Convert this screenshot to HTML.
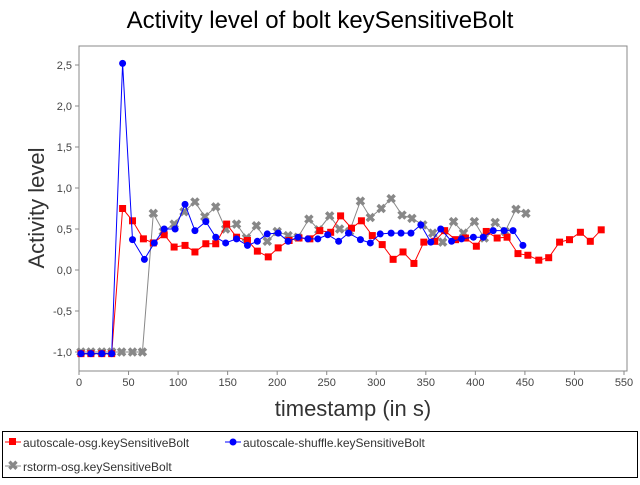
<!DOCTYPE html>
<html><head><meta charset="utf-8"><style>
body{margin:0;background:#fff;font-family:"Liberation Sans",sans-serif}
svg text{font-family:"Liberation Sans",sans-serif}
</style></head><body>
<svg id="chart" width="640" height="480">
<text x="320" y="28" text-anchor="middle" font-size="24" fill="#000">Activity level of bolt keySensitiveBolt</text>
<rect x="79" y="46" width="548" height="325" fill="#fff" stroke="#888"/>
<g id="axes"></g>
<g id="series"></g>
<text transform="translate(44,208) rotate(-90)" text-anchor="middle" font-size="22" fill="#333">Activity level</text>
<text x="353" y="416" text-anchor="middle" font-size="22" fill="#333">timestamp (in s)</text>
<rect x="2.5" y="431.5" width="635" height="46" fill="#fff" stroke="#000"/>
<g>
<line x1="5" y1="442" x2="21" y2="442" stroke="#f00"/><rect x="9" y="438" width="7" height="7" fill="#f00"/>
<text x="23" y="447" font-size="12" fill="#333">autoscale-osg.keySensitiveBolt</text></g>
<g>
<line x1="225" y1="442" x2="241" y2="442" stroke="#00f"/><circle cx="233" cy="442" r="3.5" fill="#00f"/>
<text x="243" y="447" font-size="12" fill="#333">autoscale-shuffle.keySensitiveBolt</text></g>
<g>
<line x1="5" y1="466" x2="21" y2="466" stroke="#888"/><text x="13" y="470" font-size="13" font-weight="bold" fill="#888" text-anchor="middle">✖</text>
<text x="23" y="471" font-size="12" fill="#333">rstorm-osg.keySensitiveBolt</text></g>
</svg>
<script>
const xTicks=[0,50,100,150,200,250,300,350,400,450,500,550];
const yTicks=[-1.0,-0.5,0.0,0.5,1.0,1.5,2.0,2.5];
const redT=[2,12,23,33,44,54,65,75,86,96,107,117,128,138,149,159,170,180,191,201,212,222,233,243,254,264,275,285,296,306,317,327,338,348,359,369,380,390,401,411,422,432,443,453,464,474,485,495,506,516,527];
const redV=[-1.02,-1.02,-1.02,-1.02,0.75,0.6,0.38,0.33,0.43,0.28,0.3,0.22,0.32,0.32,0.56,0.4,0.36,0.23,0.16,0.27,0.36,0.39,0.38,0.48,0.46,0.66,0.51,0.6,0.42,0.31,0.13,0.22,0.08,0.34,0.35,0.48,0.37,0.39,0.29,0.47,0.39,0.4,0.2,0.18,0.12,0.15,0.34,0.37,0.46,0.35,0.49];
const blueT=[2,12,23,33,44,54,66,76,86,97,107,117,128,138,148,159,170,180,190,201,211,221,231,241,251,262,272,284,294,304,315,325,335,345,355,365,376,386,398,408,418,429,438,448];
const blueV=[-1.02,-1.02,-1.02,-1.02,2.52,0.37,0.13,0.33,0.5,0.5,0.8,0.48,0.59,0.4,0.33,0.38,0.3,0.35,0.44,0.45,0.35,0.4,0.38,0.38,0.43,0.35,0.45,0.37,0.33,0.44,0.45,0.45,0.45,0.55,0.34,0.5,0.35,0.38,0.4,0.4,0.48,0.48,0.48,0.3];
const grayT=[2,12,23,33,43,54,64,75,85,96,106,117,127,138,148,159,169,179,190,200,211,221,232,242,253,263,273,284,294,305,315,326,336,347,357,367,378,388,399,409,420,430,441,451];
const grayV=[-1.0,-1.0,-1.0,-1.0,-1.0,-1.0,-1.0,0.69,0.47,0.56,0.71,0.83,0.65,0.77,0.5,0.56,0.39,0.54,0.35,0.47,0.42,0.4,0.62,0.49,0.66,0.5,0.47,0.84,0.64,0.75,0.87,0.67,0.63,0.55,0.45,0.34,0.59,0.45,0.59,0.39,0.58,0.47,0.74,0.69];
const X0=79,XS=(624-79)/550,Y0=270,YS=82;
const sx=t=>X0+t*XS, sy=v=>Y0-v*YS;
const NS="http://www.w3.org/2000/svg";
function mk(tag,attrs,parent){const e=document.createElementNS(NS,tag);for(const k in attrs)e.setAttribute(k,attrs[k]);parent.appendChild(e);return e;}
const axes=document.getElementById('axes');
xTicks.forEach(t=>{
 const l=mk('line',{x1:sx(t),x2:sx(t),y1:371,y2:375,stroke:'#888'},axes);
 
 
 const tx=mk('text',{x:sx(t),y:386,'text-anchor':'middle','font-size':11,fill:'#444'},axes);
 tx.textContent=t;
 
 
});
yTicks.forEach(v=>{
 const l=mk('line',{x1:75,x2:79,y1:sy(v),y2:sy(v),stroke:'#888'},axes);
 
 
 const tx=mk('text',{x:72,y:sy(v)+4,'text-anchor':'end','font-size':11,fill:'#444'},axes);
 tx.textContent=v.toFixed(1).replace('.',',');
 
 
});
const sg=document.getElementById('series');
function draw(T,V,color,shape,name){
 const g=mk('g',{},sg);
 
 
 mk('polyline',{points:T.map((t,i)=>sx(t)+','+sy(V[i])).join(' '),fill:'none',stroke:color,'stroke-width':1},g);
 T.forEach((t,i)=>{
  const x=sx(t),y=sy(V[i]);let m;
  if(shape==='sq')m=mk('rect',{x:x-3.5,y:y-3.5,width:7,height:7,fill:color},g);
  else if(shape==='c')m=mk('circle',{cx:x,cy:y,r:3.5,fill:color},g);
  else{m=mk('path',{d:`M${x-3.5},${y-3.5}L${x+3.5},${y+3.5}M${x+3.5},${y-3.5}L${x-3.5},${y+3.5}`,stroke:color,'stroke-width':3.5},g);}
  
  
 });
}
draw(grayT,grayV,'#888','x','series-rstorm-osg');
draw(redT,redV,'#f00','sq','series-autoscale-osg');
draw(blueT,blueV,'#00f','c','series-autoscale-shuffle');
</script>
</body></html>
